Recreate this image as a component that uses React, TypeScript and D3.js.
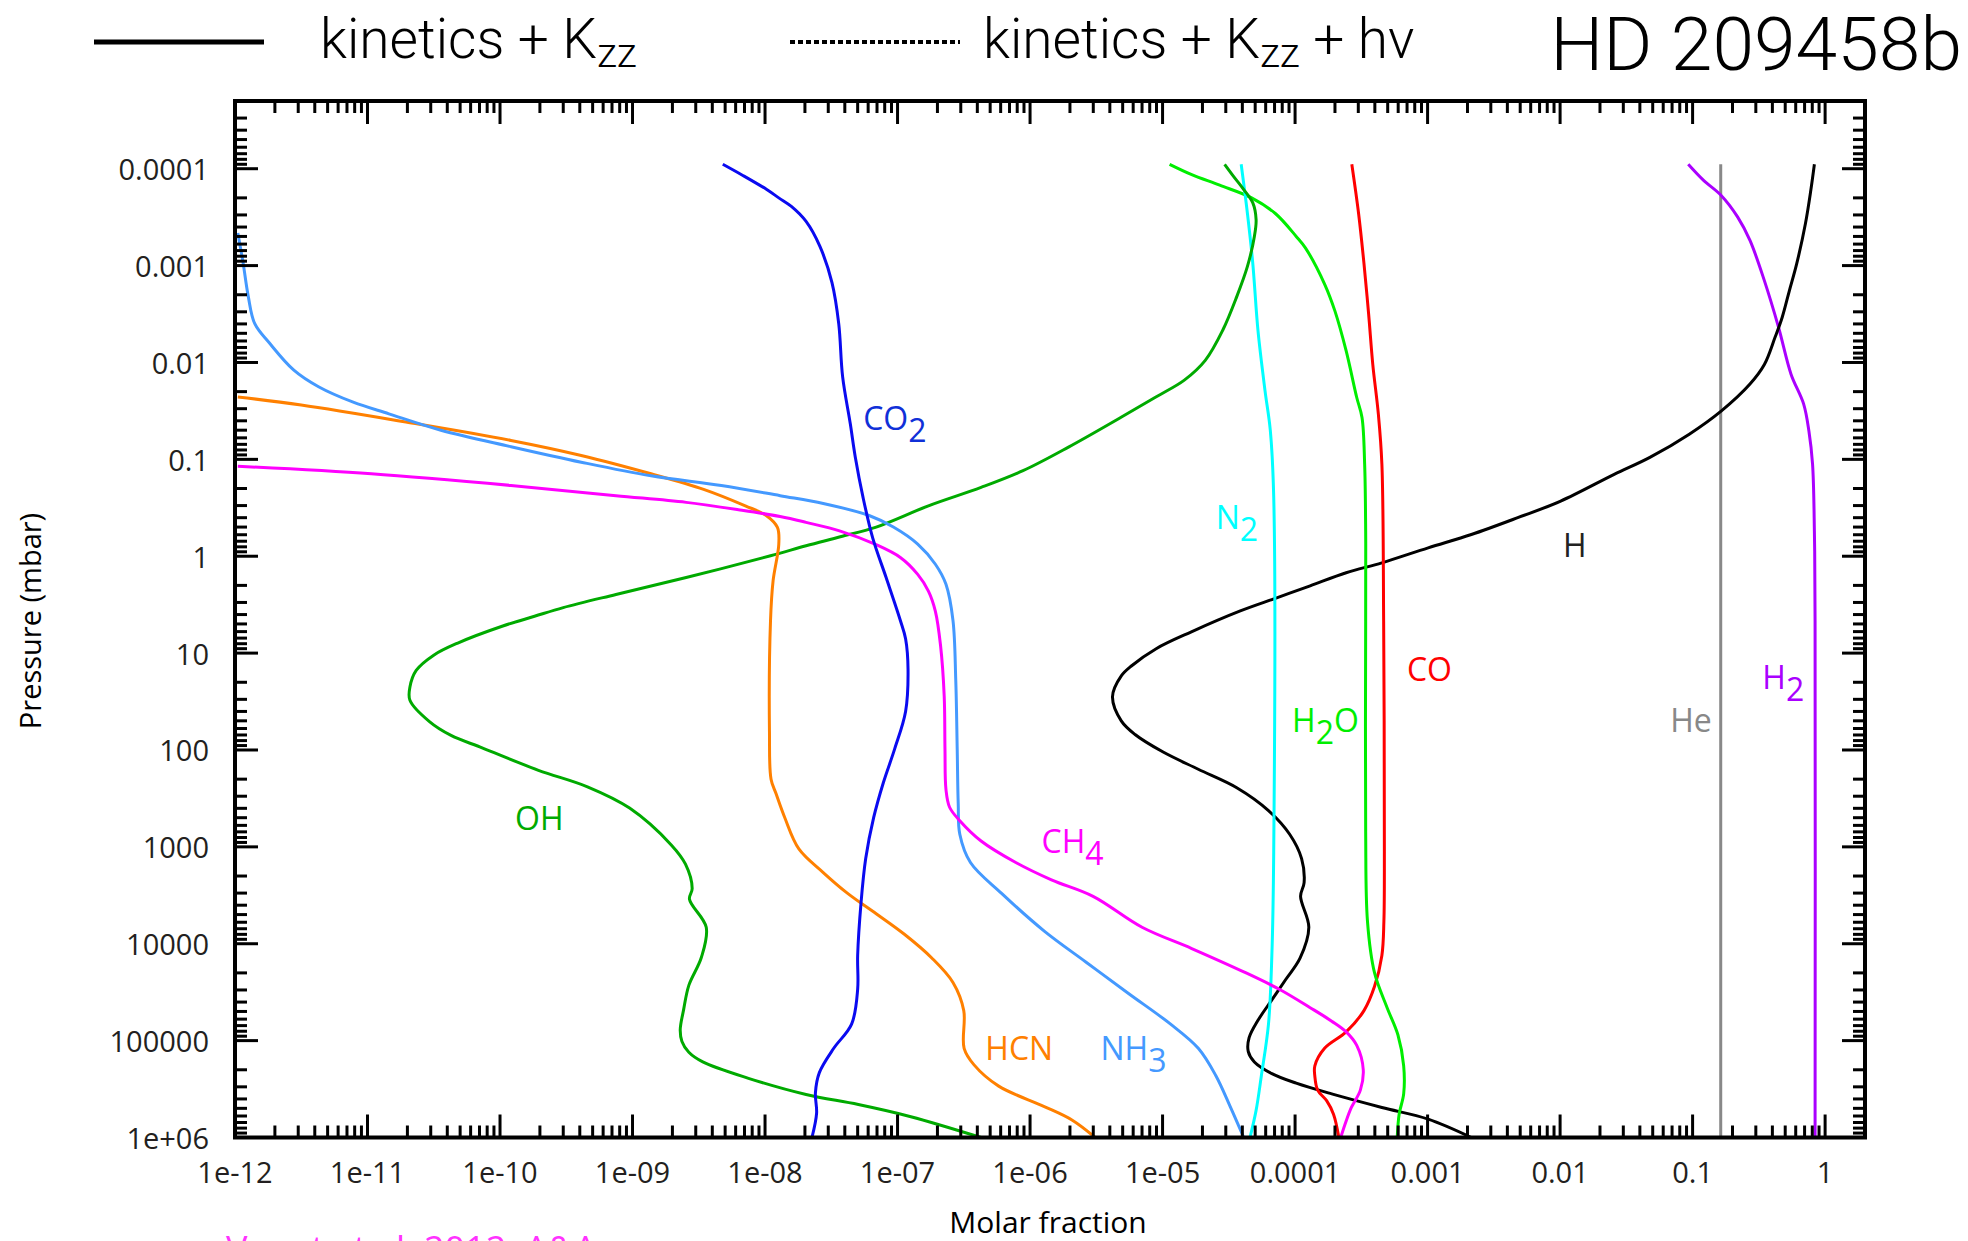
import React from "react";
import * as d3 from "d3";

// [molar fraction, pressure (mbar)]
type Pt = [number, number];

const WIDTH = 1968;
const HEIGHT = 1241;

const xDomain: [number, number] = [1e-12, 2];
const yDomain: [number, number] = [2e-5, 1e6];

const xTickValues = [1e-12, 1e-11, 1e-10, 1e-9, 1e-8, 1e-7, 1e-6, 1e-5, 1e-4, 1e-3, 1e-2, 1e-1, 1];
const xTickLabels = ["1e-12", "1e-11", "1e-10", "1e-09", "1e-08", "1e-07", "1e-06", "1e-05", "0.0001", "0.001", "0.01", "0.1", "1"];
const yTickValues = [1e-4, 1e-3, 1e-2, 1e-1, 1, 10, 100, 1000, 1e4, 1e5, 1e6];
const yTickLabels = ["0.0001", "0.001", "0.01", "0.1", "1", "10", "100", "1000", "10000", "100000", "1e+06"];

const co2: Pt[] = [
  [4.8e-9, 9e-5], [6.7e-9, 1.16e-4], [1.03e-8, 1.64e-4], [1.27e-8, 2.0e-4], [1.58e-8, 2.45e-4],
  [2.04e-8, 3.5e-4], [2.59e-8, 6.3e-4], [3.2e-8, 1.5e-3], [3.6e-8, 4.0e-3], [3.85e-8, 0.014],
  [4.4e-8, 0.043], [4.8e-8, 0.095], [5.5e-8, 0.25], [6.5e-8, 0.65], [8.2e-8, 1.66],
  [1.05e-7, 4.6], [1.15e-7, 7.1], [1.2e-7, 14.8], [1.15e-7, 40], [9.5e-8, 98],
  [7.8e-8, 219], [6.6e-8, 500], [5.75e-8, 1320], [5.3e-8, 3800], [5.0e-8, 13200],
  [5.0e-8, 29500], [4.5e-8, 67600], [3.3e-8, 1.2e5], [2.57e-8, 2.14e5], [2.4e-8, 3.47e5],
  [2.45e-8, 5.6e5], [2.26e-8, 1e6],
];

const h2o: Pt[] = [
  [1.13e-5, 9e-5], [1.66e-5, 1.15e-4], [2.7e-5, 1.48e-4], [4.7e-5, 2.0e-4], [7.1e-5, 2.9e-4],
  [1.02e-4, 5.0e-4], [1.2e-4, 6.6e-4], [1.67e-4, 1.55e-3], [2.0e-4, 2.95e-3], [2.43e-4, 7.6e-3],
  [2.92e-4, 0.023], [3.2e-4, 0.037], [3.35e-4, 0.112], [3.41e-4, 0.55], [3.41e-4, 4.7],
  [3.41e-4, 690], [3.52e-4, 5900], [3.98e-4, 20000], [4.95e-4, 45700], [5.97e-4, 87000],
  [6.6e-4, 1.82e5], [6.6e-4, 3.55e5], [6.1e-4, 5.75e5], [5.9e-4, 1e6],
];

const co: Pt[] = [
  [2.68e-4, 9e-5], [3.02e-4, 2.95e-4], [3.31e-4, 9.5e-4], [3.59e-4, 3.16e-3], [3.86e-4, 0.0105],
  [4.25e-4, 0.034], [4.52e-4, 0.112], [4.66e-4, 4.7], [4.72e-4, 1120], [4.68e-4, 5900],
  [4.52e-4, 13200], [3.98e-4, 27500], [3.31e-4, 49000], [2.43e-4, 81300], [1.67e-4, 1.2e5],
  [1.41e-4, 1.82e5], [1.41e-4, 2.34e5], [1.48e-4, 3.24e5], [1.73e-4, 4.17e5], [1.95e-4, 5.75e5],
  [2.14e-4, 1e6],
];

const ch4: Pt[] = [
  [1.05e-12, 0.118], [1.07e-11, 0.141], [1.21e-10, 0.186], [7.5e-10, 0.237], [2.54e-9, 0.278],
  [6.3e-9, 0.331], [1.3e-8, 0.389], [2.04e-8, 0.447], [3.7e-8, 0.55], [6.9e-8, 0.76],
  [1.05e-7, 1.03], [1.42e-7, 1.54], [1.71e-7, 2.29], [1.93e-7, 3.7], [2.11e-7, 8.3],
  [2.25e-7, 28], [2.28e-7, 98], [2.32e-7, 257], [2.47e-7, 390], [2.95e-7, 537],
  [4.27e-7, 870], [7.8e-7, 1450], [1.45e-6, 2190], [2.99e-6, 3240], [7.0e-6, 6760],
  [1.66e-5, 11200], [4.1e-5, 19500], [7.6e-5, 29500], [1.3e-4, 45700], [1.89e-4, 63000],
  [2.43e-4, 81300], [2.92e-4, 1.12e5], [3.27e-4, 2.0e5], [3.11e-4, 3.24e5], [2.66e-4, 4.9e5],
  [2.43e-4, 6.76e5], [2.21e-4, 1e6],
];

const nh3: Pt[] = [
  [1.05e-12, 4.6e-4], [1.15e-12, 9.3e-4], [1.26e-12, 2.09e-3], [1.41e-12, 3.98e-3], [1.82e-12, 6.3e-3],
  [2.78e-12, 0.012], [4.27e-12, 0.0178], [7.8e-12, 0.0257], [1.45e-11, 0.0339], [3.58e-11, 0.05],
  [1.21e-10, 0.074], [4.1e-10, 0.107], [1.38e-9, 0.148], [4.68e-9, 0.186], [1.3e-8, 0.237],
  [2.75e-8, 0.285], [6.1e-8, 0.38], [9.3e-8, 0.5], [1.42e-7, 0.75], [1.93e-7, 1.21],
  [2.32e-7, 1.95], [2.62e-7, 4.6], [2.75e-7, 19], [2.82e-7, 98], [2.87e-7, 359],
  [2.95e-7, 741], [3.55e-7, 1450], [6.1e-7, 3020], [1.28e-6, 7400], [2.65e-6, 15500],
  [5.5e-6, 32400], [1.15e-5, 67600], [1.86e-5, 1.2e5], [2.52e-5, 2.29e5], [3.24e-5, 4.79e5],
  [4.1e-5, 1e6],
];

const n2: Pt[] = [
  [3.92e-5, 9e-5], [4.37e-5, 2.9e-4], [4.79e-5, 9.3e-4], [5.25e-5, 4.7e-3], [5.93e-5, 0.0195],
  [6.5e-5, 0.05], [6.9e-5, 0.245], [6.9e-5, 1120], [6.68e-5, 13200], [6.3e-5, 67600],
  [5.57e-5, 2.29e5], [5.08e-5, 5.25e5], [4.57e-5, 1e6],
];

const hcn: Pt[] = [
  [1.05e-12, 0.0227], [3.16e-12, 0.0275], [1.95e-11, 0.0412], [1.21e-10, 0.0638], [4.1e-10, 0.0912],
  [1.38e-9, 0.141], [3.44e-9, 0.204], [7.1e-9, 0.302], [1.02e-8, 0.38], [1.24e-8, 0.505],
  [1.27e-8, 0.75], [1.15e-8, 1.8], [1.1e-8, 4.6], [1.08e-8, 64.6], [1.11e-8, 200],
  [1.21e-8, 282], [1.41e-8, 501], [1.8e-8, 1050], [2.75e-8, 1840], [4.2e-8, 3020],
  [6.9e-8, 4900], [1.12e-7, 7940], [1.82e-7, 14100], [2.62e-7, 25100], [3.16e-7, 49000],
  [3.18e-7, 1.2e5], [3.78e-7, 1.78e5], [5.8e-7, 2.95e5], [1.28e-6, 4.79e5], [2.07e-6, 6.6e5],
  [3.1e-6, 1e6],
];

const oh: Pt[] = [
  [2.94e-5, 9e-5], [3.42e-5, 1.19e-4], [4.1e-5, 1.64e-4], [4.79e-5, 2.24e-4], [5.08e-5, 3.35e-4],
  [4.93e-5, 5.0e-4], [4.37e-5, 1.02e-3], [3.63e-5, 2.09e-3], [2.85e-5, 4.62e-3], [2.1e-5, 9.5e-3],
  [1.46e-5, 0.0152], [8.9e-6, 0.0227], [4.9e-6, 0.0366], [1.95e-6, 0.0748], [8.85e-7, 0.131],
  [4.27e-7, 0.195], [1.71e-7, 0.302], [6.9e-8, 0.5], [3.7e-8, 0.63], [2.04e-8, 0.78],
  [1.1e-8, 0.99], [2.54e-9, 1.66], [7.5e-10, 2.48], [3.0e-10, 3.39], [1.82e-10, 4.17],
  [1.05e-10, 5.25], [4.8e-11, 7.87], [3.16e-11, 10.5], [2.33e-11, 15.1], [2.09e-11, 22.4],
  [2.09e-11, 30.7], [2.95e-11, 51.3], [4.27e-11, 70.8], [7.4e-11, 95.5], [1.95e-10, 162],
  [4.57e-10, 240], [9.5e-10, 398], [1.96e-9, 955], [2.51e-9, 1510], [2.82e-9, 2690],
  [2.69e-9, 3470], [3.6e-9, 6760], [3.31e-9, 13800], [2.66e-9, 26900], [2.43e-9, 47900],
  [2.29e-9, 77600], [2.36e-9, 1.02e5], [2.66e-9, 1.32e5], [3.39e-9, 1.66e5], [7.5e-9, 2.45e5],
  [2.04e-8, 3.6e5], [5.06e-8, 4.57e5], [1.26e-7, 6.1e5], [4.27e-7, 1e6],
];

const hAtom: Pt[] = [
  [0.83, 9e-5], [0.78, 1.67e-4], [0.71, 3.7e-4], [0.61, 9.6e-4], [0.537, 1.82e-3],
  [0.474, 3.43e-3], [0.419, 5.5e-3], [0.348, 0.0105], [0.271, 0.0167], [0.165, 0.0316],
  [0.0944, 0.055], [0.0476, 0.0955], [0.0256, 0.143], [0.0101, 0.27], [4.79e-3, 0.40],
  [2.14e-3, 0.597], [1.01e-3, 0.82], [4.52e-4, 1.17], [2.43e-4, 1.48], [1.3e-4, 2.02],
  [7.1e-5, 2.72], [3.86e-5, 3.67], [1.65e-5, 6.03], [8.95e-6, 9.0], [5.85e-6, 13.5],
  [4.88e-6, 17.2], [4.19e-6, 28.2], [4.88e-6, 50.1], [6.2e-6, 69.2], [1.01e-5, 105],
  [1.86e-5, 158], [3.63e-5, 245], [6.3e-5, 422], [9.1e-5, 741], [1.12e-4, 1320],
  [1.17e-4, 2340], [1.1e-4, 3240], [1.27e-4, 6760], [1.09e-4, 14100], [8.5e-5, 23400],
  [6.68e-5, 38000], [5.25e-5, 61700], [4.5e-5, 93300], [4.43e-5, 1.29e5], [4.93e-5, 1.66e5],
  [6.68e-5, 2.19e5], [1.02e-4, 2.75e5], [1.89e-4, 3.55e5], [4.52e-4, 4.9e5], [1.01e-3, 6.46e5],
  [2.14e-3, 1e6],
];

const h2: Pt[] = [
  [0.0927, 9e-5], [0.121, 1.32e-4], [0.165, 1.9e-4], [0.219, 3.16e-4], [0.271, 5.5e-4],
  [0.348, 1.43e-3], [0.446, 4.37e-3], [0.553, 0.0132], [0.689, 0.0269], [0.755, 0.0513],
  [0.804, 0.112], [0.83, 0.55], [0.84, 4.6], [0.84, 1e6],
];

const he: Pt[] = [[0.163, 9e-5], [0.163, 1e6]];

const series = [
  { name: "He", data: he, color: "#888888" },
  { name: "H2", data: h2, color: "#aa00ff" },
  { name: "H", data: hAtom, color: "#000000" },
  { name: "CO", data: co, color: "#ff0000" },
  { name: "H2O", data: h2o, color: "#00ee00" },
  { name: "N2", data: n2, color: "#00ffff" },
  { name: "OH", data: oh, color: "#00aa00" },
  { name: "HCN", data: hcn, color: "#ff8000" },
  { name: "NH3", data: nh3, color: "#4499ff" },
  { name: "CH4", data: ch4, color: "#ff00ff" },
  { name: "CO2", data: co2, color: "#0a0af0" },
];

// Species labels: text pieces (sub = subscript) anchored at [molar fraction, pressure]
type Piece = { t: string; sub?: boolean };
const speciesLabels: { parts: Piece[]; at: Pt; color: string }[] = [
  { parts: [{ t: "CO" }, { t: "2", sub: true }], at: [5.5e-8, 0.0495], color: "#1030d8" },
  { parts: [{ t: "N" }, { t: "2", sub: true }], at: [2.52e-5, 0.52], color: "#00ffff" },
  { parts: [{ t: "H" }], at: [0.0105, 1.01], color: "#222222" },
  { parts: [{ t: "CO" }], at: [6.98e-4, 19.2], color: "#ff0000" },
  { parts: [{ t: "H" }, { t: "2", sub: true }, { t: "O" }], at: [9.5e-5, 65.5], color: "#00ee00" },
  { parts: [{ t: "He" }], at: [0.0678, 65.5], color: "#888888" },
  { parts: [{ t: "H" }, { t: "2", sub: true }], at: [0.336, 23.6], color: "#aa00ff" },
  { parts: [{ t: "OH" }], at: [1.3e-10, 676], color: "#00aa00" },
  { parts: [{ t: "CH" }, { t: "4", sub: true }], at: [1.22e-6, 1170], color: "#ff00ff" },
  { parts: [{ t: "HCN" }], at: [4.6e-7, 1.6e5], color: "#ff8000" },
  { parts: [{ t: "NH" }, { t: "3", sub: true }], at: [3.4e-6, 1.6e5], color: "#4499ff" },
];

function logTicks(domain: [number, number]) {
  const out: { v: number; major: boolean }[] = [];
  const lo = Math.floor(Math.log10(domain[0]));
  const hi = Math.ceil(Math.log10(domain[1]));
  for (let e = lo; e <= hi; e++) {
    for (let m = 1; m <= 9; m++) {
      const v = m * Math.pow(10, e);
      if (v >= domain[0] * 0.9999 && v <= domain[1] * 1.0001) out.push({ v, major: m === 1 });
    }
  }
  return out;
}

const LABEL_FONT = "'Open Sans', 'Noto Sans', sans-serif";
const THIN_FONT = "Roboto, 'Liberation Sans', sans-serif";
const TEXT_COLOR = "#231f20";

export default function App() {
  const left = 235;
  const right = 1865;
  const top = 101;
  const bottom = 1137.5;

  const x = d3.scaleLog().domain(xDomain).range([left, right]);
  const y = d3.scaleLog().domain(yDomain).range([top, bottom]);

  const line = d3
    .line<Pt>()
    .x((d) => x(d[0]))
    .y((d) => y(d[1]))
    .curve(d3.curveCatmullRom.alpha(0.5));

  const xt = logTicks(xDomain);
  const yt = logTicks(yDomain);
  const majorLen = 23;
  const minorLen = 12;

  const subShift = 12;

  return (
    <svg
      width={WIDTH}
      height={HEIGHT}
      viewBox={`0 0 ${WIDTH} ${HEIGHT}`}
      style={{ position: "absolute", left: 0, top: 0, background: "#fff" }}
    >
      <rect x={0} y={0} width={WIDTH} height={HEIGHT} fill="#fff" />

      {/* legend */}
      <line x1={94} x2={264} y1={42} y2={42} stroke="#000" strokeWidth={5} />
      <text x={320} y={58} fontFamily={THIN_FONT} fontWeight={300} fontSize={55} fill="#000">
        kinetics + K
        <tspan fontSize={41} dy={9}>zz</tspan>
      </text>
      <line x1={790} x2={960} y1={42} y2={42} stroke="#000" strokeWidth={4} strokeDasharray="5 3" />
      <text x={983} y={58} fontFamily={THIN_FONT} fontWeight={300} fontSize={55} fill="#000">
        kinetics + K
        <tspan fontSize={41} dy={9}>zz</tspan>
        <tspan dy={-9}> + hv</tspan>
      </text>
      <text
        x={1962}
        y={70}
        textAnchor="end"
        fontFamily={THIN_FONT}
        fontWeight={300}
        fontSize={75}
        fill="#000"
      >
        HD 209458b
      </text>

      <defs>
        <clipPath id="plot-clip">
          <rect x={left} y={top} width={right - left} height={bottom - top} />
        </clipPath>
      </defs>

      {/* profiles */}
      <g clipPath="url(#plot-clip)">
        {series.map((s) => (
          <path
            key={s.name}
            d={line(s.data) || ""}
            fill="none"
            stroke={s.color}
            strokeWidth={3}
            strokeLinejoin="round"
            strokeLinecap="butt"
          />
        ))}
      </g>

      {/* species labels */}
      {speciesLabels.map((l, i) => (
        <text
          key={i}
          x={x(l.at[0])}
          y={y(l.at[1])}
          fontFamily={LABEL_FONT}
          fontSize={32}
          fill={l.color}
        >
          {l.parts.map((p, j) => {
            const prevSub = j > 0 && l.parts[j - 1].sub;
            const dy = p.sub ? subShift : prevSub ? -subShift : 0;
            return (
              <tspan key={j} dy={dy}>
                {p.t}
              </tspan>
            );
          })}
        </text>
      ))}

      {/* ticks on all four sides */}
      <g stroke="#000" strokeWidth={3}>
        {xt.map((t, i) => {
          const px = x(t.v);
          const len = t.major ? majorLen : minorLen;
          return (
            <g key={`xt${i}`}>
              <line x1={px} x2={px} y1={bottom} y2={bottom - len} />
              <line x1={px} x2={px} y1={top} y2={top + len} />
            </g>
          );
        })}
        {yt.map((t, i) => {
          const py = y(t.v);
          const len = t.major ? majorLen : minorLen;
          return (
            <g key={`yt${i}`}>
              <line x1={left} x2={left + len} y1={py} y2={py} />
              <line x1={right} x2={right - len} y1={py} y2={py} />
            </g>
          );
        })}
      </g>

      {/* frame */}
      <rect
        x={left}
        y={top}
        width={right - left}
        height={bottom - top}
        fill="none"
        stroke="#000"
        strokeWidth={4}
      />

      {/* tick labels */}
      <g fontFamily={LABEL_FONT} fontSize={29} fill={TEXT_COLOR}>
        {xTickValues.map((v, i) => (
          <text key={`xl${i}`} x={x(v)} y={1183} textAnchor="middle">
            {xTickLabels[i]}
          </text>
        ))}
        {yTickValues.map((v, i) => (
          <text key={`yl${i}`} x={209} y={y(v)} textAnchor="end" dominantBaseline="central">
            {yTickLabels[i]}
          </text>
        ))}
      </g>

      {/* axis titles */}
      <text x={1048} y={1233} textAnchor="middle" fontFamily={LABEL_FONT} fontSize={30} fill="#000">
        Molar fraction
      </text>
      <text
        transform="translate(41,621) rotate(-90)"
        textAnchor="middle"
        fontFamily={LABEL_FONT}
        fontSize={29}
        fill="#000"
      >
        Pressure (mbar)
      </text>

      {/* source note, running off the bottom edge */}
      <text x={226} y={1262} fontFamily={LABEL_FONT} fontSize={36} fill="#ff33ff">
        Venot et al. 2012, A&amp;A
      </text>
    </svg>
  );
}
